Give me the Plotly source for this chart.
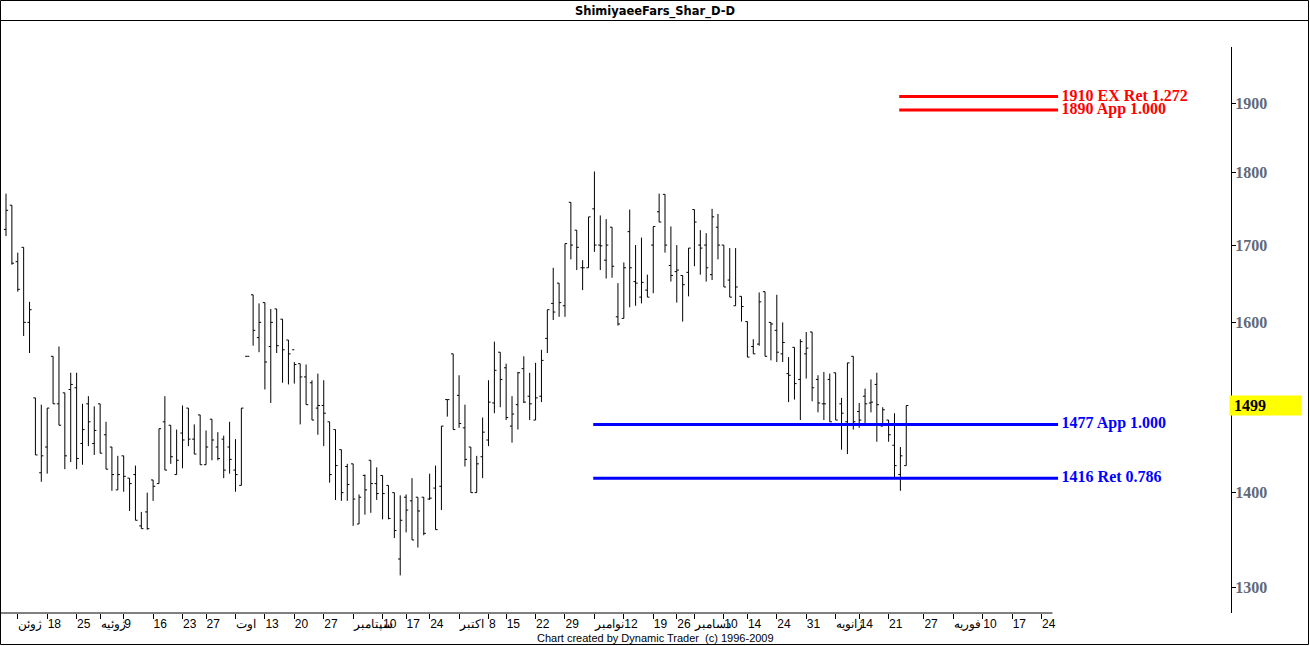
import numpy as np
import plotly.graph_objects as go

# ---------------- data ----------------
opens = [1721, 1754, 1678, 1697, 1600, 1508, 1422, 1451, 1558, 1501,
         1514, 1518, 1520, 1455, 1501, 1455, 1501, 1465, 1451, 1403,
         1441, 1416, 1420, 1364, 1379, 1414, 1410, 1480, 1476, 1420,
         1467, 1496, 1460, 1488, 1431, 1483, 1451, 1460, 1451, 1425,
         1408, 1558, 1635, 1581, 1625, 1570, 1617, 1604, 1578, 1566,
         1549, 1533, 1526, 1496, 1499, 1480, 1471, 1448, 1429, 1432,
         1366, 1419, 1436, 1410, 1419, 1408, 1400, 1329, 1395, 1391,
         1395, 1395, 1393, 1405, 1407, 1506, 1561, 1511, 1473, 1451,
         1400, 1440, 1459, 1502, 1563, 1544, 1475, 1500, 1543, 1510,
         1482, 1510, 1580, 1624, 1650, 1621, 1758, 1720, 1670, 1670,
         1749, 1700, 1680, 1724, 1607, 1605, 1718, 1652, 1632, 1641,
         1700, 1745, 1769, 1673, 1665, 1660, 1664, 1748, 1700, 1700,
         1661, 1724, 1700, 1654, 1621, 1633, 1601, 1570, 1573, 1639,
         1600, 1590, 1561, 1537, 1569, 1530, 1561, 1588, 1530, 1501,
         1530, 1538, 1501, 1480, 1558, 1492, 1510, 1502, 1524, 1475,
         1482, 1453, 1420, 1430]
highs = [1770, 1754, 1690, 1697, 1626, 1508, 1500, 1496, 1558, 1570,
         1514, 1538, 1538, 1501, 1510, 1498, 1501, 1480, 1451, 1441,
         1441, 1416, 1430, 1379, 1400, 1414, 1472, 1510, 1476, 1471,
         1499, 1496, 1477, 1488, 1470, 1483, 1468, 1464, 1480, 1460,
         1496, 1558, 1635, 1624, 1625, 1617, 1617, 1604, 1578, 1551,
         1549, 1548, 1529, 1537, 1529, 1480, 1471, 1448, 1432, 1432,
         1398, 1420, 1436, 1428, 1419, 1408, 1400, 1397, 1398, 1416,
         1395, 1395, 1421, 1430, 1475, 1506, 1561, 1535, 1500, 1451,
         1441, 1485, 1529, 1576, 1563, 1549, 1510, 1539, 1558, 1538,
         1550, 1566, 1616, 1670, 1650, 1702, 1758, 1720, 1680, 1738,
         1801, 1740, 1735, 1724, 1650, 1677, 1748, 1700, 1710, 1661,
         1725, 1770, 1769, 1725, 1700, 1660, 1696, 1748, 1720, 1716,
         1749, 1742, 1700, 1696, 1696, 1633, 1601, 1579, 1638, 1639,
         1600, 1635, 1600, 1557, 1569, 1579, 1588, 1588, 1535, 1539,
         1537, 1538, 1508, 1550, 1558, 1502, 1519, 1530, 1538, 1497,
         1482, 1490, 1451, 1499]
lows = [1712, 1674, 1639, 1583, 1562, 1442, 1412, 1421, 1501, 1476,
        1426, 1434, 1426, 1431, 1452, 1442, 1444, 1426, 1402, 1403,
        1401, 1380, 1370, 1361, 1360, 1391, 1410, 1425, 1432, 1420,
        1427, 1452, 1443, 1431, 1431, 1436, 1436, 1416, 1421, 1401,
        1408, 1558, 1571, 1563, 1518, 1502, 1562, 1526, 1524, 1525,
        1477, 1500, 1482, 1465, 1452, 1411, 1392, 1391, 1391, 1364,
        1366, 1376, 1378, 1392, 1371, 1371, 1351, 1312, 1357, 1349,
        1341, 1354, 1392, 1360, 1381, 1486, 1471, 1473, 1429, 1400,
        1400, 1416, 1452, 1490, 1497, 1482, 1456, 1471, 1502, 1482,
        1482, 1503, 1562, 1603, 1607, 1607, 1681, 1667, 1641, 1670,
        1691, 1667, 1656, 1657, 1596, 1605, 1619, 1621, 1624, 1632,
        1637, 1731, 1690, 1652, 1625, 1601, 1633, 1672, 1661, 1652,
        1654, 1681, 1645, 1632, 1621, 1601, 1557, 1561, 1571, 1558,
        1553, 1551, 1551, 1503, 1506, 1482, 1531, 1504, 1491, 1482,
        1480, 1482, 1448, 1443, 1471, 1473, 1476, 1491, 1457, 1475,
        1457, 1415, 1402, 1430]
closes = [1747, 1676, 1642, 1600, 1616, 1442, 1441, 1496, 1501, 1476,
          1441, 1524, 1438, 1471, 1480, 1470, 1444, 1426, 1420, 1420,
          1418, 1410, 1370, 1361, 1361, 1407, 1472, 1425, 1440, 1436,
          1459, 1460, 1443, 1431, 1451, 1459, 1438, 1425, 1437, 1420,
          1496, 1558, 1590, 1600, 1551, 1600, 1571, 1566, 1561, 1548,
          1533, 1500, 1482, 1499, 1490, 1420, 1430, 1400, 1409, 1393,
          1395, 1403, 1410, 1399, 1399, 1372, 1359, 1370, 1381, 1349,
          1380, 1356, 1394, 1360, 1475, 1506, 1471, 1478, 1437, 1400,
          1432, 1468, 1503, 1541, 1530, 1485, 1489, 1538, 1503, 1501,
          1508, 1553, 1616, 1613, 1625, 1702, 1700, 1697, 1670, 1738,
          1700, 1699, 1700, 1672, 1598, 1670, 1670, 1650, 1651, 1632,
          1725, 1731, 1700, 1660, 1667, 1648, 1696, 1731, 1696, 1670,
          1738, 1700, 1645, 1632, 1645, 1620, 1557, 1561, 1626, 1558,
          1598, 1563, 1575, 1535, 1525, 1576, 1568, 1520, 1502, 1501,
          1480, 1482, 1490, 1550, 1480, 1482, 1501, 1503, 1500, 1494,
          1465, 1430, 1441, 1499]
bar_index = list(range(len(opens)))

tick_index = [2, 7, 12, 16, 20, 25, 30, 34, 39, 44, 49, 54, 59, 64, 68, 72,
              77, 82, 85, 90, 95, 100, 105, 110, 114, 117, 122, 126, 131, 136,
              141, 145, 150, 156, 161, 166, 171, 176]
tick_labels = ["ژوئن", "18", "25", "ژوئیه", "9", "16", "23", "27", "اوت", "13",
               "20", "27", "سپتامبر", "10", "17", "24", "اکتبر", "8", "15", "22",
               "29", "نوامبر", "12", "19", "26", "دسامبر", "10", "14", "24", "31",
               "ژانویه", "14", "21", "27", "فوریه", "10", "17", "24"]

price_ticks = [1300, 1400, 1500, 1600, 1700, 1800, 1900]
price_tick_labels = ["1300", "1400", "", "1600", "1700", "1800", "1900"]

level_values = [1910, 1890, 1477, 1416]
level_labels = ["1910 EX Ret 1.272", "1890 App 1.000", "1477 App 1.000", "1416 Ret 0.786"]
level_colors = ["#ff0000", "#ff0000", "#0000ff", "#0000ff"]
level_start = [151.8, 151.8, 99.8, 99.8]
level_end = 178.8
level_label_x = 179.4

last_price = 1499
title_text = "ShimiyaeeFars_Shar_D-D"
footer_text = "Chart created by Dynamic Trader  (c) 1996-2009"

# ---------------- figure ----------------
fig = go.Figure()

fig.add_trace(go.Ohlc(
    x=bar_index, open=opens, high=highs, low=lows, close=closes,
    increasing=dict(line=dict(color="black", width=1)),
    decreasing=dict(line=dict(color="black", width=1)),
    tickwidth=0.36, showlegend=False, hoverinfo="skip",
))

for val, lab, col, x0 in zip(level_values, level_labels, level_colors, level_start):
    fig.add_trace(go.Scatter(
        x=[x0, level_end], y=[val, val], mode="lines",
        line=dict(color=col, width=3), showlegend=False, hoverinfo="skip",
    ))
    fig.add_trace(go.Scatter(
        x=[level_label_x], y=[val], mode="text", text=[lab],
        textposition="middle right",
        textfont=dict(family="Liberation Serif", size=16, color=col, weight="bold"),
        showlegend=False, hoverinfo="skip", cliponaxis=False,
    ))

W, H = 1310, 646
ML, MR, MT, MB = 1, 79, 47, 33
pw = W - ML - MR
ph = H - MT - MB

def px_x(p):
    return (p - ML) / pw

def px_y(p):
    return (H - MB - p) / ph

fig.update_layout(
    width=W, height=H,
    margin=dict(l=ML, r=MR, t=MT, b=MB, pad=0, autoexpand=False),
    paper_bgcolor="white", plot_bgcolor="white",
    title=dict(text="<b>" + title_text + "</b>", x=0.5, xref="container",
               y=1 - 10.5 / H, yref="container", xanchor="center", yanchor="middle",
               font=dict(family="DejaVu Sans", size=11.5, color="black")),
    xaxis=dict(
        range=[-0.85, 208.19], tickvals=tick_index, ticktext=tick_labels,
        ticks="outside", ticklen=5, tickcolor="black", tickwidth=1,
        tickangle=0,
        showline=False, showgrid=False, zeroline=False,
        ticklabelposition="outside right",
        tickfont=dict(family="Liberation Sans", size=12, color="black"),
        rangeslider=dict(visible=False), fixedrange=True,
    ),
    yaxis=dict(
        type="log", range=[np.log10(1273.9), np.log10(1985.7)], side="right",
        showline=True, linecolor="black", linewidth=1,
        ticks="outside", ticklen=4, tickcolor="black", tickwidth=1,
        tickvals=price_ticks, ticktext=price_tick_labels,
        ticklabelstandoff=-4,
        showgrid=False, zeroline=False,
        tickfont=dict(family="Liberation Serif", size=16, color="#5f6a78", weight="bold"),
        fixedrange=True,
    ),
    shapes=[
        dict(type="rect", xref="paper", yref="paper",
             x0=px_x(0.5), x1=px_x(1308.5), y0=px_y(644.5), y1=px_y(0.5),
             line=dict(color="black", width=1), fillcolor="rgba(0,0,0,0)", layer="above"),
        dict(type="line", xref="paper", yref="paper",
             x0=px_x(0.5), x1=px_x(1308.5), y0=px_y(20.5), y1=px_y(20.5),
             line=dict(color="black", width=1)),
        dict(type="line", xref="paper", yref="paper",
             x0=px_x(0.5), x1=px_x(1052.5), y0=0, y1=0,
             line=dict(color="black", width=1)),
    ],
    annotations=[
        dict(text=footer_text, xref="paper", yref="paper",
             x=px_x(655), y=px_y(637.5), xanchor="center", yanchor="middle",
             showarrow=False, font=dict(family="Liberation Sans", size=11, color="black")),
        dict(text="&nbsp;" + str(last_price), xref="paper", yref="y",
             x=px_x(1229), y=np.log10(last_price), xanchor="left", yanchor="middle",
             showarrow=False, bgcolor="#ffff00", width=71, height=19, borderpad=0,
             align="left",
             font=dict(family="Liberation Serif", size=16, color="black", weight="bold")),
    ],
)

fig.write_html("out.html", config={"displayModeBar": False},
               post_script="document.body.style.margin='0px';")
